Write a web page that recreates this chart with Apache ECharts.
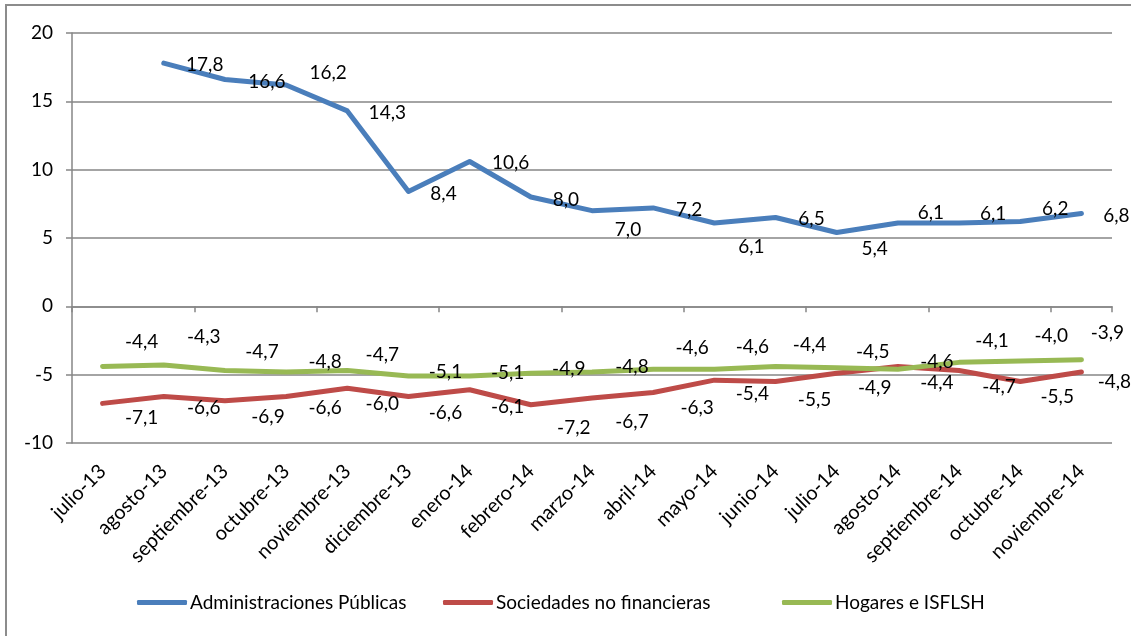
<!DOCTYPE html>
<html>
<head>
<meta charset="utf-8">
<title>Chart</title>
<script src="https://cdn.jsdelivr.net/npm/echarts@6/dist/echarts.min.js"></script>
<style>
  html, body { margin: 0; padding: 0; background: #fff; }
  #frame { position: absolute; left: 5px; top: 4px; width: 1140px; height: 650px; border: 2px solid #8c8c8c; box-sizing: border-box; }
  #chart { position: absolute; left: 0; top: 0; width: 1131px; height: 636px; }
</style>
</head>
<body>
<div id="frame"></div>
<div id="chart"></div>
<script>
// categories
const months = [
  "julio-13", "agosto-13", "septiembre-13", "octubre-13", "noviembre-13", "diciembre-13",
  "enero-14", "febrero-14", "marzo-14", "abril-14", "mayo-14", "junio-14",
  "julio-14", "agosto-14", "septiembre-14", "octubre-14", "noviembre-14"
];
const seriesNames = ["Administraciones Públicas", "Sociedades no financieras", "Hogares e ISFLSH"];

// values
const adminPublicas = [null, 17.8, 16.6, 16.2, 14.3, 8.4, 10.6, 8.0, 7.0, 7.2, 6.1, 6.5, 5.4, 6.1, 6.1, 6.2, 6.8];
const sociedades = [-7.1, -6.6, -6.9, -6.6, -6.0, -6.6, -6.1, -7.2, -6.7, -6.3, -5.4, -5.5, -4.9, -4.4, -4.7, -5.5, -4.8];
const hogares = [-4.4, -4.3, -4.7, -4.8, -4.7, -5.1, -5.1, -4.9, -4.8, -4.6, -4.6, -4.4, -4.5, -4.6, -4.1, -4.0, -3.9];

// y axis ticks
const yTicks = [-10, -5, 0, 5, 10, 15, 20];

// nudges of the data labels (pixels) from their points, as placed in the original
const adminLabelDx = [0, 41, 42, 42, 40, 35, 41, 35, 36, 36, 37, 36, 38, 33, 34, 35, 35];
const adminLabelDy = [0, 2, 2, -12, 2, 2, 1, 3, 19, 2, 24, 1, 16, -10, -9, -13, 2];
const sociedadesLabelDx = [39, 40, 43, 39, 35, 37, 38, 43, 40, 44, 38, 39, 38, 39, 40, 37, 33];
const sociedadesLabelDy = [15, 11, 16, 11, 16, 16, 17, 23, 24, 15, 14, 18, 15, 16, 16, 15, 10];
const hogaresLabelDx = [39, 40, 37, 39, 35, 37, 38, 38, 40, 39, 38, 34, 36, 39, 33, 31, 26];
const hogaresLabelDy = [-25, -28, -19, -10, -16, -4, -3, -4, -5, -21, -22, -22, -16, -7, -21, -25, -27];

// left edge of each legend entry
const legendLeft = [137, 443, 782];

const FONT = "Lato, 'Open Sans', sans-serif";

function withLabels(values, dx, dy) {
  return values.map(function (v, i) {
    if (v === null) return "-";
    return { value: v, label: { offset: [dx[i], dy[i]] } };
  });
}

function lineSeries(name, values, dx, dy, color) {
  return {
    name: name,
    type: "line",
    data: withLabels(values, dx, dy),
    symbol: "circle",
    symbolSize: 1,
    showSymbol: true,
    smooth: false,
    lineStyle: { color: color, width: 5, cap: "round", join: "round" },
    itemStyle: { color: color },
    label: {
      show: true,
      position: "inside",
      color: "#000",
      fontFamily: FONT,
      fontSize: 19,
      formatter: function (p) {
        return Number(p.value).toFixed(1).replace(".", ",");
      }
    }
  };
}

let chart = echarts.init(document.getElementById("chart"));

const option = {
  animation: false,
  grid: { left: 72, right: 19, top: 33, bottom: 193 },
  legend: seriesNames.map(function (name, i) {
    return {
      data: [name],
      left: legendLeft[i],
      top: 593,
      padding: 0,
      itemWidth: 50,
      itemHeight: 5,
      icon: "roundRect",
      textStyle: { color: "#000", fontFamily: FONT, fontSize: 19, padding: [0, 0, 0, -2] }
    };
  }),
  xAxis: [
    {
      // labels along the bottom
      type: "category",
      data: months,
      position: "bottom",
      axisLine: { show: false, onZero: false },
      axisTick: { show: false },
      splitLine: { show: false },
      axisLabel: {
        interval: 0,
        rotate: 45,
        margin: 25,
        color: "#000",
        fontFamily: FONT,
        fontSize: 20
      }
    },
    {
      // axis line with ticks at zero
      type: "category",
      data: months,
      position: "top",
      axisLine: { show: true, onZero: true, onZeroAxisIndex: 0, lineStyle: { color: "#868686", width: 1.5 } },
      axisTick: { show: true, inside: true, length: 6, lineStyle: { color: "#868686", width: 1.5 } },
      axisLabel: { show: false },
      splitLine: { show: false }
    }
  ],
  yAxis: {
    type: "value",
    min: yTicks[0],
    max: yTicks[yTicks.length - 1],
    interval: 5,
    axisLine: { show: true, lineStyle: { color: "#868686", width: 1.5 } },
    axisTick: { show: true, length: 6, lineStyle: { color: "#868686", width: 1.5 } },
    axisLabel: { color: "#000", fontFamily: FONT, fontSize: 19, margin: 19 },
    splitLine: { show: true, lineStyle: { color: "#868686", width: 1.5 } }
  },
  series: [
    lineSeries(seriesNames[0], adminPublicas, adminLabelDx, adminLabelDy, "#4a7ebb"),
    lineSeries(seriesNames[1], sociedades, sociedadesLabelDx, sociedadesLabelDy, "#be4b48"),
    lineSeries(seriesNames[2], hogares, hogaresLabelDx, hogaresLabelDy, "#98b954")
  ]
};

chart.setOption(option);

window.addEventListener("resize", function () {
  chart.resize();
});
</script>
</body>
</html>
